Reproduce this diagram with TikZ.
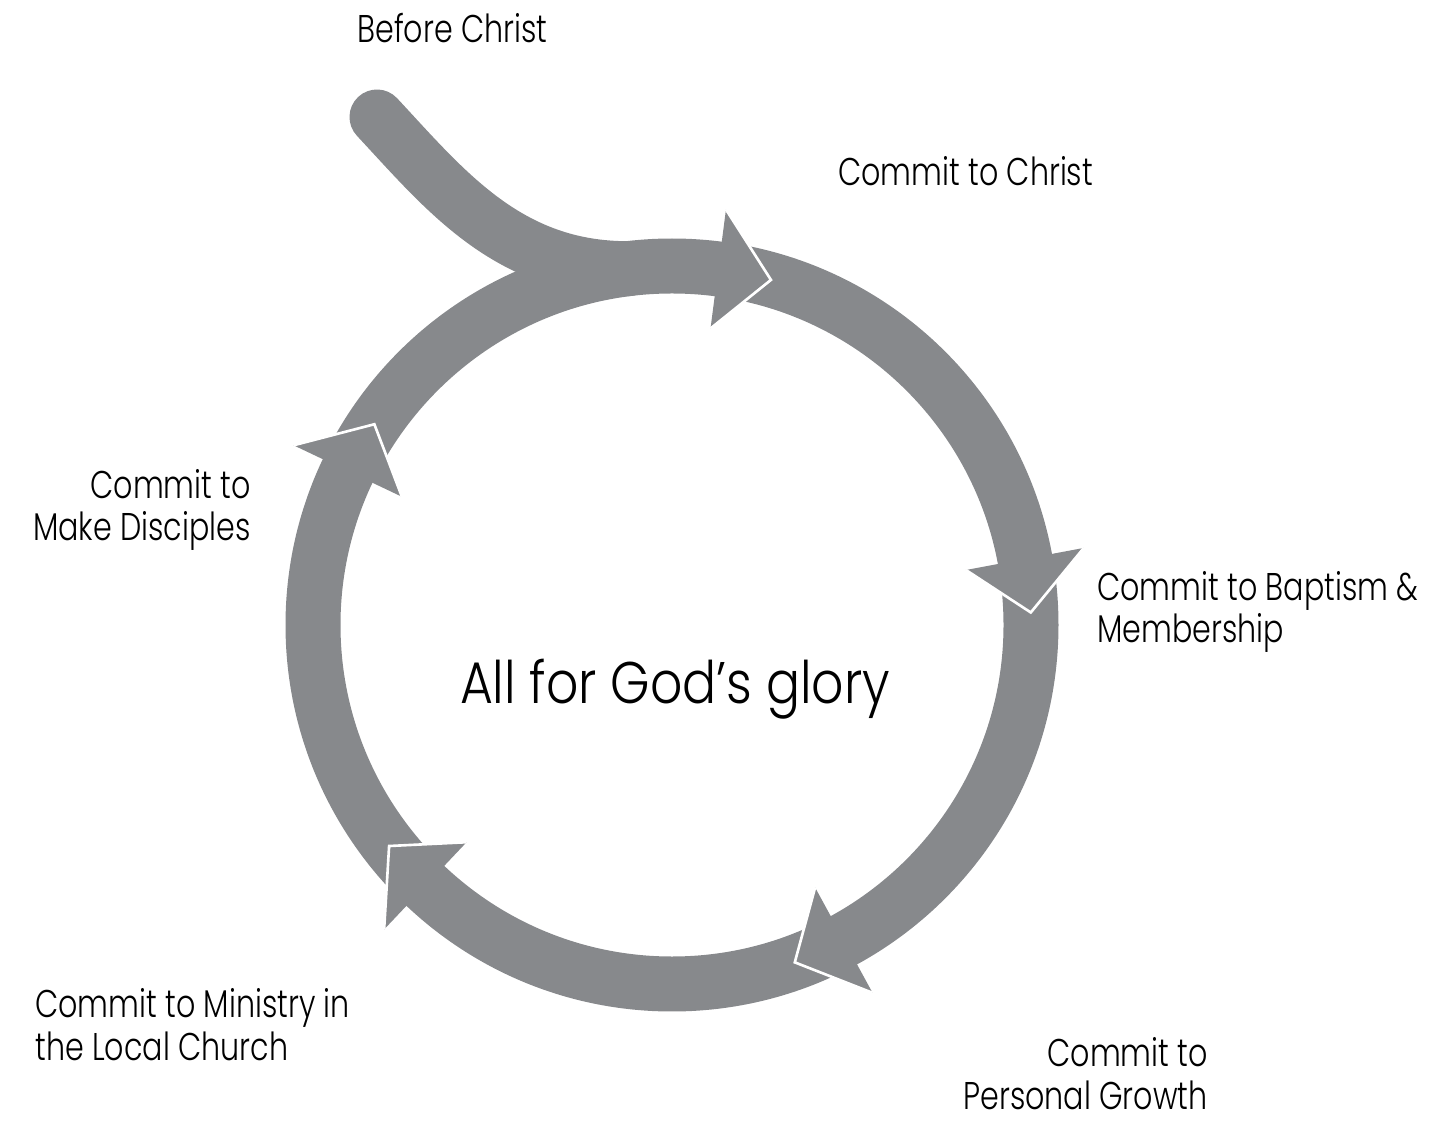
\documentclass[tikz,border=0pt]{standalone}
\usepackage{fontspec}
\setmainfont{Poppins}[UprightFont=* Light, FakeStretch=0.78]
\newfontfamily\gloryfont{Poppins}[UprightFont=* Light, FakeStretch=0.86]
\usetikzlibrary{calc}
\definecolor{ringgray}{RGB}{135,137,140}
\def\cyclehead(#1){%
	\fill[ringgray] ($(c)+(#1+8.6:419)$) -- ($(c)+(#1:359)$) -- ($(c)+(#1+8.6:299)$) -- cycle;
	\draw[white, line width=1.5pt] ($(c)+(#1+8.6:419)$) -- ($(c)+(#1:359)$) -- ($(c)+(#1+8.6:299)$);}
\tikzset{commit/.style={font=\fontsize{22}{24}\selectfont, inner sep=0pt}}

\begin{document}
\begin{tikzpicture}[x=0.02cm, y=0.02cm]
		%%%%% START %%%%%
		\useasboundingbox (0,0) rectangle (1437,1120);
		\coordinate (c) at (672,495);
		\coordinate (bc) at (377,1003);
		
		% way in from the top left
		\draw[ringgray, line width=1.1cm, line cap=round] (bc) .. controls (445,930) and (508,851) .. ($(c)+(97:359)$);
		
		% the cycle
		\draw[ringgray, line width=1.1cm] (c) circle (359);
		
		\cyclehead(74)
		\cyclehead(2)
		\cyclehead(-70)
		\cyclehead(-142)
		\cyclehead(-214)
		
		% base of a two line node is its last line
		\node[commit, anchor=base west] (before) at (357,1077) {Before Christ};
		\node[commit, anchor=base west] (christ) at (838,934) {Commit to Christ};
		\node[commit, anchor=base west, align=left] (baptism) at (1097,477) {Commit to Baptism \&\\Membership};
		\node[commit, anchor=base east, align=right] (growth) at (1208,11) {Commit to\\Personal Growth};
		\node[commit, anchor=base west, align=left] (ministry) at (35,60) {Commit to Ministry in\\the Local Church};
		\node[commit, anchor=base east, align=right] (disciples) at (251,579) {Commit to\\Make Disciples};
		
		\node[font=\gloryfont\fontsize{33.4}{40}\selectfont, inner sep=0pt, anchor=base] (glory) at (675,417) {All for God’s glory};
		%%%%% END %%%%%
\end{tikzpicture}
\end{document}
